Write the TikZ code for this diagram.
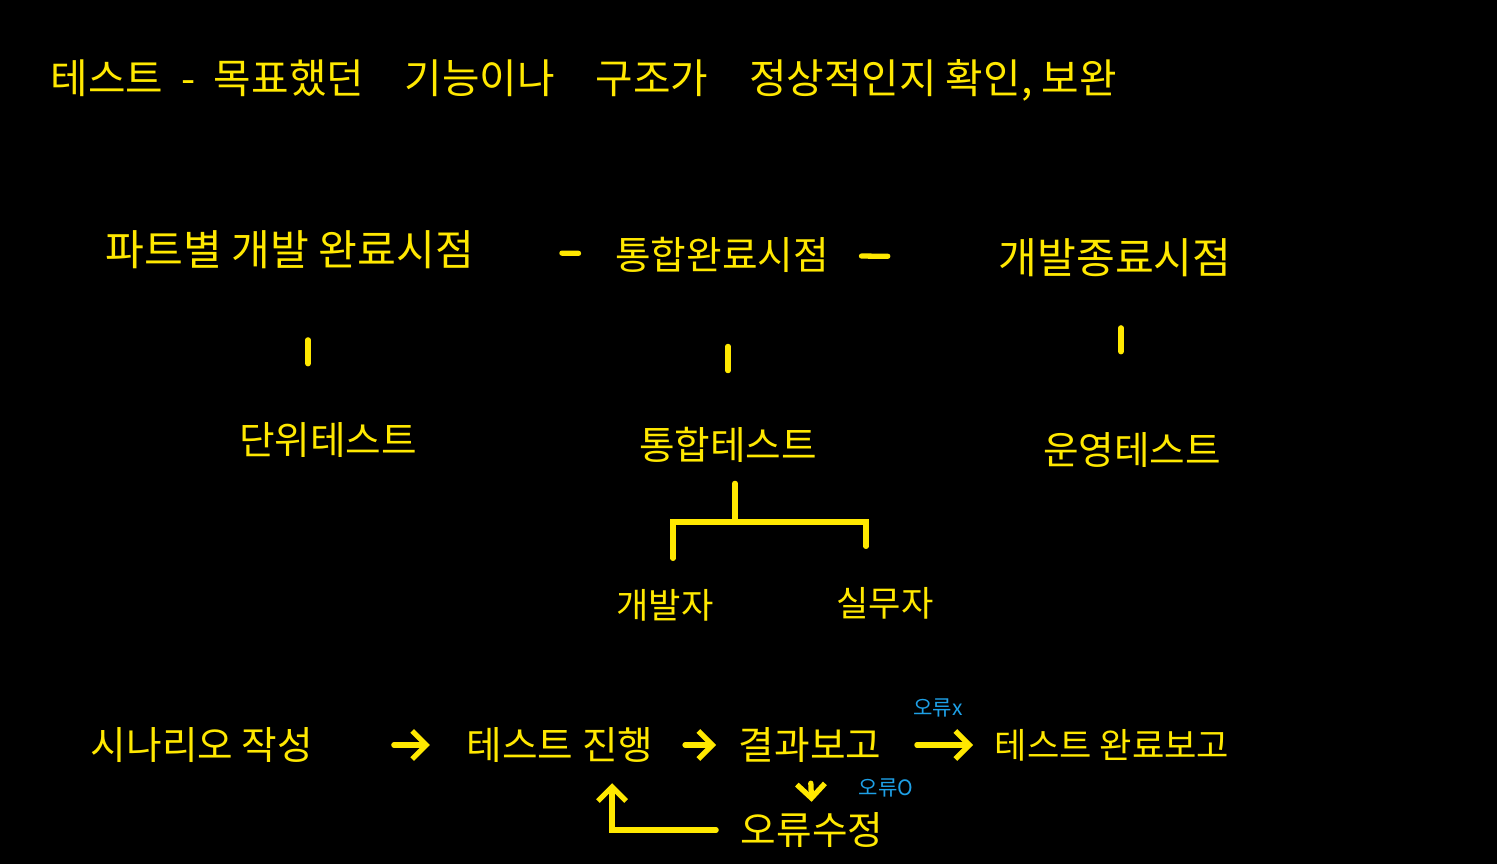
\documentclass[tikz,border=0pt]{standalone}
\usepackage{fontspec}
\setmainfont{Noto Sans CJK KR}
\usetikzlibrary{arrows.meta}
\definecolor{penyellow}{HTML}{FFE800}
\definecolor{penblue}{HTML}{1EA0E6}
\tikzset{
  txt/.style={text=penyellow, inner sep=0pt, font=\fontsize{11}{13}\selectfont},
  big/.style={txt, font=\fontsize{12}{14}\selectfont},
  small/.style={txt, font=\fontsize{10}{12}\selectfont},
  note/.style={text=penblue, inner sep=0pt, font=\fontsize{6}{7}\selectfont},
  pen/.style={draw=penyellow, line width=1.5pt, line cap=round},
  arr/.style={pen, -{Straight Barb[length=4pt,width=8pt]}}
}
\begin{document}
\begin{tikzpicture}[x=0.01cm, y=-0.01cm]
\fill[black] (0,0) rectangle (1497,864);

% definition
\node[txt, font=\fontsize{11.6}{13}\selectfont, anchor=west] (title) at (50,80) {테스트 \ - \ 목표했던\quad 기능이나\quad 구조가\quad 정상적인지 확인,\ 보완};

% time points
\node[big] (p1) at (290,250) {파트별 개발 완료시점};
\node[txt] (p2) at (722,255) {통합완료시점};
\node[big] (p3) at (1115,258) {개발종료시점};
\draw[pen, shorten <=0.87cm, shorten >=0.36cm] (p1) -- (p2);
\draw[pen, shorten <=0.32cm, shorten >=1.1cm] (p2) -- (p3);

% test kinds
\node[txt] (t1) at (328,440) {단위테스트};
\node[txt] (t2) at (728,445) {통합테스트};
\node[txt] (t3) at (1132,450) {운영테스트};
\draw[pen, shorten <=0.7cm, shorten >=0.58cm] ([xshift=-0.2cm]p1.south -| t1) -- ([xshift=-0.2cm]t1.north);
\draw[pen, shorten <=0.73cm, shorten >=0.56cm] (p2.south -| t2) -- (t2.north);
\draw[pen, shorten <=0.5cm, shorten >=0.8cm] ([xshift=-0.11cm]p3.south -| t3) -- ([xshift=-0.11cm]t3.north);

% who tests
\node[small] (dev) at (665,605) {개발자};
\node[small] (prac) at (885,603) {실무자};
\coordinate (br) at (735,522);
\draw[pen, shorten <=0.2cm] (t2.south -| br) -- (br);
\draw[pen, shorten <=0.3cm, shorten >=0.4cm] ([xshift=0.08cm]dev.north) |- (br) -| ([xshift=-0.19cm]prac.north);

% test process
\node[txt] (s1) at (202,745) {시나리오 작성};
\node[txt] (s2) at (560,745) {테스트 진행};
\node[txt] (s3) at (810,745) {결과보고};
\node[small] (s4) at (1112,745) {테스트 완료보고};
\node[txt] (fix) at (812,830) {오류수정};
\draw[arr, shorten <=0.8cm, shorten >=0.36cm] (s1) -- (s2);
\draw[arr, shorten <=0.31cm, shorten >=0.22cm] (s2) -- (s3);
\draw[arr, shorten <=0.35cm, shorten >=0.21cm] (s3) -- node[note, above=0.25cm] (ok) {오류x} (s4);
\draw[arr, shorten <=0.2cm, shorten >=0.1cm] (s3.south) -- node[note, right=0.45cm] (ng) {오류O} (fix.north);
\draw[arr, shorten <=0.24cm, shorten >=0.2cm] (fix.west) -| ([xshift=0.52cm]s2.south);
\end{tikzpicture}
\end{document}
